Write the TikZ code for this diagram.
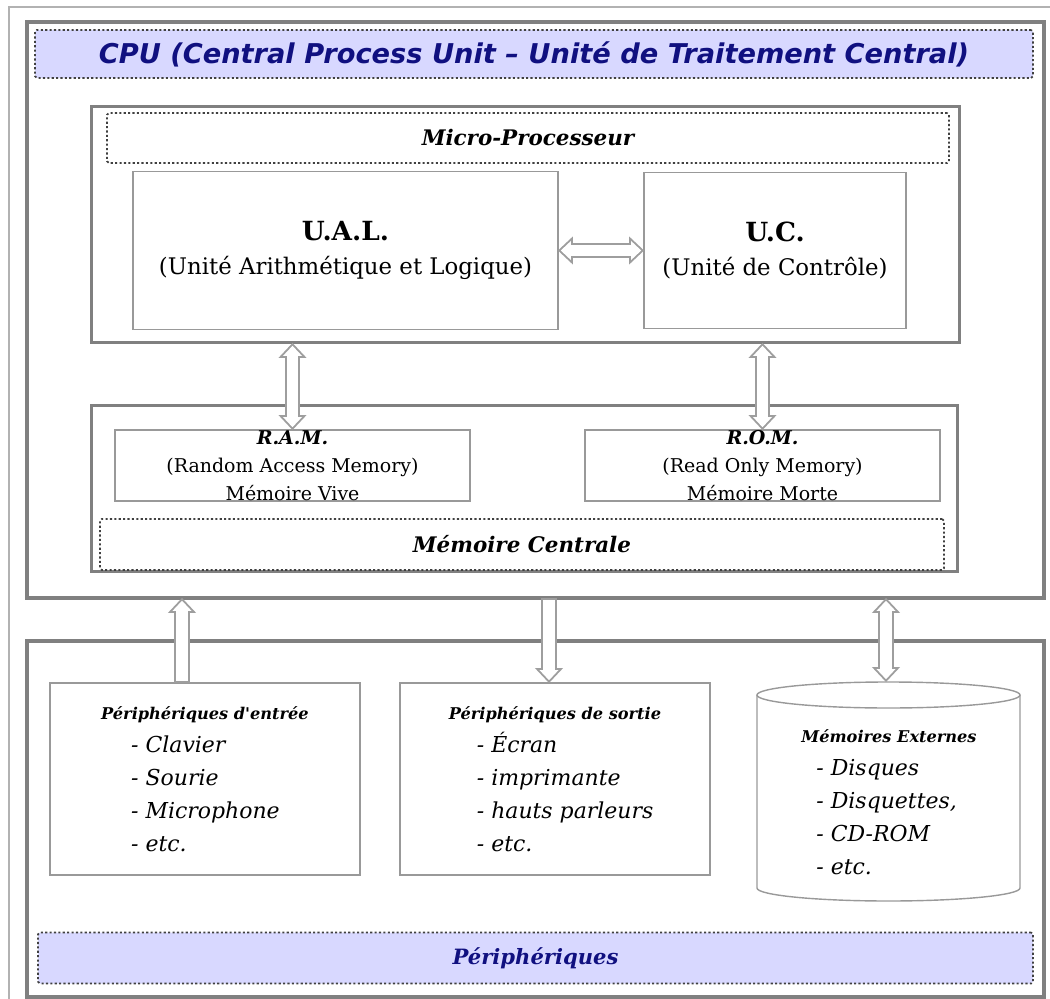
\documentclass[tikz,border=0pt]{standalone}
\usepackage{fontspec}
\setmainfont{DejaVu Serif}
\setsansfont{DejaVu Sans}
\usepackage{tikz}
\usetikzlibrary{arrows.meta}
\definecolor{lav}{RGB}{216,216,255}
\definecolor{navy}{RGB}{16,16,128}
\definecolor{framegray}{RGB}{128,128,128}

\begin{document}
\begin{tikzpicture}[x=0.02cm, y=-0.02cm,
    bigframe/.style={draw=framegray, line width=2.5pt, inner sep=0pt, outer sep=0pt},
    midframe/.style={draw=framegray, line width=1.7pt, inner sep=0pt, outer sep=0pt},
    box/.style={draw=black!40, line width=0.8pt, inner sep=0pt, outer sep=0pt},
    tag/.style={draw=black!75, line width=1pt, dash pattern=on 1.2pt off 1.3pt,
        rounded corners=1pt, inner sep=0pt, outer sep=0pt},
    band/.style={tag, fill=lav, text=navy},
    grayhead/.tip={Triangle[length=8.5pt, width=16pt, line width=0pt]},
    whitehead/.tip={Triangle[length=5.8pt, width=10.9pt, line width=0pt]},
    hollowto/.style={line width=9pt, draw=black!38, -grayhead,
        postaction={draw=white, line width=6.8pt, shorten <=1.1pt, shorten >=1.6pt, -whitehead}},
    hollowboth/.style={line width=9pt, draw=black!38, grayhead-grayhead,
        postaction={draw=white, line width=6.8pt, shorten <=1.6pt, shorten >=1.6pt, whitehead-whitehead}}]

    \useasboundingbox (0,0) rectangle (1050,999);
    \draw[black!30, line width=0.9pt] (9,1005) -- (9,7) -- (1055,7);

    % CPU
    \node[bigframe, minimum width=20.34cm, minimum height=11.52cm] (cpu) at (535.5,310) {};
    \node[band, minimum width=19.96cm, minimum height=0.96cm,
        font=\sffamily\bfseries\itshape\fontsize{15.5}{18}\selectfont] (cputitle) at (534,54)
        {CPU (Central Process Unit -- Unité de Traitement Central)};

    \node[midframe, minimum width=17.38cm, minimum height=4.74cm] (mp) at (525.5,224.5) {};
    \node[tag, minimum width=16.84cm, minimum height=1cm,
        font=\bfseries\itshape\fontsize{12.2}{14}\selectfont] (mptitle) at (528,138) {Micro-Processeur};
    \node[box, minimum width=8.5cm, minimum height=3.16cm, align=center,
        font=\fontsize{13}{19}\selectfont] (ual) at (345.5,250.5)
        {{\bfseries\fontsize{15}{19}\selectfont U.A.L.}\\(Unité Arithmétique et Logique)};
    \node[box, minimum width=5.24cm, minimum height=3.12cm, align=center,
        font=\fontsize{13}{19}\selectfont] (uc) at (775,250.5)
        {{\bfseries\fontsize{15}{19}\selectfont U.C.}\\(Unité de Contrôle)};

    \node[midframe, minimum width=17.34cm, minimum height=3.34cm] (mc) at (524.5,488.5) {};
    \node[box, minimum width=7.1cm, minimum height=1.42cm, align=center,
        font=\fontsize{10.8}{15.9}\selectfont] (ram) at (292.5,465.5)
        {{\bfseries\itshape R.A.M.}\\(Random Access Memory)\\Mémoire Vive};
    \node[box, minimum width=7.1cm, minimum height=1.42cm, align=center,
        font=\fontsize{10.8}{15.9}\selectfont] (rom) at (762.5,465.5)
        {{\bfseries\itshape R.O.M.}\\(Read Only Memory)\\Mémoire Morte};
    \node[tag, minimum width=16.88cm, minimum height=1.02cm,
        font=\bfseries\itshape\fontsize{12.2}{14}\selectfont] (mctitle) at (522,544.5) {Mémoire Centrale};

    \draw[hollowboth] (ual.east) -- (uc.west);
    \draw[hollowboth] (ram.north |- mp.south) -- (ram.north);
    \draw[hollowboth] (rom.north |- mp.south) -- (rom.north);

    % Peripheriques
    \node[bigframe, minimum width=20.34cm, minimum height=7.12cm] (periph) at (535.5,819) {};
    \node[band, minimum width=19.9cm, minimum height=1.02cm,
        font=\bfseries\itshape\fontsize{12}{15}\selectfont] (periphtitle) at (535.5,958) {Périphériques};

    \node[box, minimum width=6.2cm, minimum height=3.84cm, align=left,
        font=\itshape\fontsize{12.5}{18.7}\selectfont] (entree) at (205,779)
        {{\bfseries\fontsize{9.2}{12}\selectfont Périphériques d\textquotesingle entrée}\\
        \hspace*{0.6cm}- Clavier\\ \hspace*{0.6cm}- Sourie\\
        \hspace*{0.6cm}- Microphone\\ \hspace*{0.6cm}- etc.};
    \node[box, minimum width=6.2cm, minimum height=3.84cm, align=left,
        font=\itshape\fontsize{12.5}{18.7}\selectfont] (sortie) at (555,779)
        {{\bfseries\fontsize{9.2}{12}\selectfont Périphériques de sortie}\\
        \hspace*{0.56cm}- Écran\\ \hspace*{0.56cm}- imprimante\\
        \hspace*{0.56cm}- hauts parleurs\\ \hspace*{0.56cm}- etc.};

    \draw[box] (757,695) -- (757,888) arc[start angle=180, end angle=0, x radius=131.5, y radius=13]
        -- (1020,695);
    \draw[box] (888.5,695) ellipse [x radius=131.5, y radius=13];
    \coordinate (extop) at (886,682);
    \node[align=left, font=\itshape\fontsize{12.5}{18.7}\selectfont] (externe) at (889,802)
        {{\bfseries\fontsize{9.2}{12}\selectfont Mémoires Externes}\\
        \hspace*{0.3cm}- Disques\\ \hspace*{0.3cm}- Disquettes,\\
        \hspace*{0.3cm}- CD-ROM\\ \hspace*{0.3cm}- etc.};

    \draw[hollowto] ([xshift=-0.46cm]entree.north) -- ([xshift=-0.46cm]entree.north |- cpu.south);
    \draw[hollowto] ([xshift=-0.12cm]sortie.north |- cpu.south) -- ([xshift=-0.12cm]sortie.north);
    \draw[hollowboth] (extop |- cpu.south) -- (extop);
\end{tikzpicture}
\end{document}
